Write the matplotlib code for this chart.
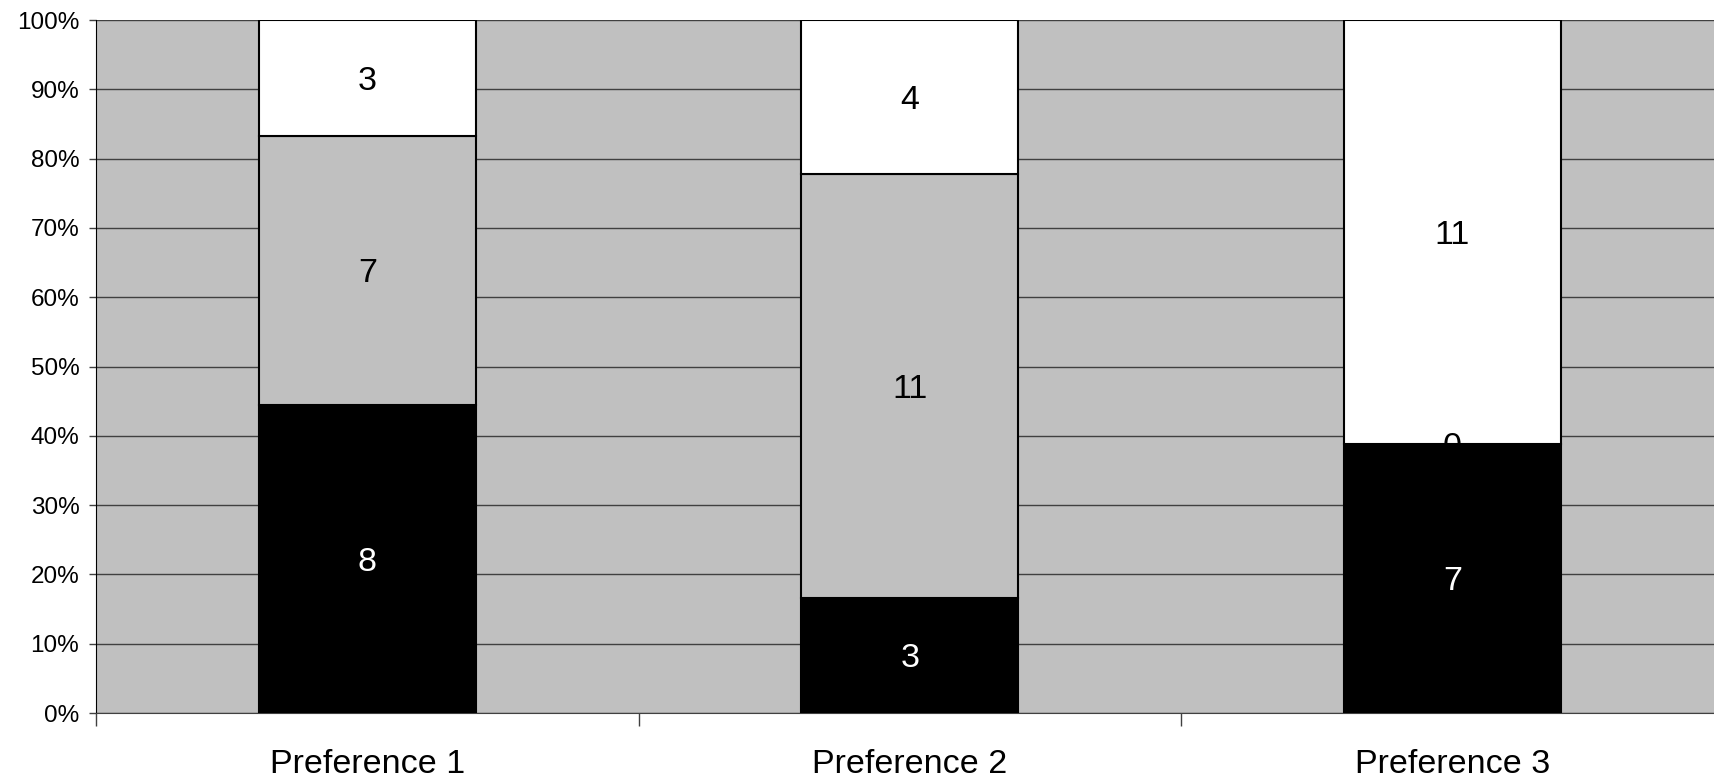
import numpy as np
import matplotlib.pyplot as plt
from matplotlib.ticker import FuncFormatter

plt.rcParams['font.family'] = ['Liberation Sans', 'DejaVu Sans']

# --- Datos ---
categorias = ['Preference 1', 'Preference 2', 'Preference 3']
serie_negra = [8, 3, 7]
serie_gris = [7, 11, 0]
serie_blanca = [3, 4, 11]

colores = ['#000000', '#c0c0c0', '#ffffff']
colores_texto = ['white', 'black', 'black']

# --- Porcentajes ---
datos = np.array([serie_negra, serie_gris, serie_blanca], dtype=float)
totales = datos.sum(axis=0)
porcentajes = datos / totales * 100

fig = plt.figure(figsize=(17.15, 7.79), dpi=100)
ax = fig.add_axes([0.056, 0.0847, 0.949, 0.8896])
ax.set_facecolor('#c0c0c0')

x = np.arange(len(categorias))
base = np.zeros(len(categorias))
for i in range(len(datos)):
    ax.bar(x, porcentajes[i], bottom=base, width=0.4, color=colores[i],
           edgecolor='black', linewidth=1.5, zorder=3)
    for j in range(len(categorias)):
        ax.text(x[j], base[j] + porcentajes[i][j] / 2, str(int(datos[i][j])),
                ha='center', va='center_baseline', fontsize=24.5,
                color=colores_texto[i], zorder=4)
    base += porcentajes[i]

# Ejes y formato
ax.set_xlim(-0.5, 2.5)
ax.set_ylim(0, 100)
ax.set_yticks(np.arange(0, 101, 10))
ax.yaxis.set_major_formatter(FuncFormatter(lambda v, p: f'{int(v)}%'))
ax.tick_params(axis='y', labelsize=17.5, length=5, width=1, color='#404040', pad=7)
ax.grid(axis='y', color='#404040', linewidth=1, zorder=1)

ax.set_xticks([-0.5, 0.5, 1.5])
ax.set_xticklabels([])
ax.set_xticks(x, minor=True)
ax.set_xticklabels(categorias, minor=True)
ax.tick_params(axis='x', which='major', length=9, width=1, color='#404040')
ax.tick_params(axis='x', which='minor', length=0, labelsize=24.5, pad=26)

for lado in ['top', 'right']:
    ax.spines[lado].set_visible(False)
ax.spines['left'].set_color('black')
ax.spines['bottom'].set_color('#404040')

fig.savefig('out.png', dpi=100)
